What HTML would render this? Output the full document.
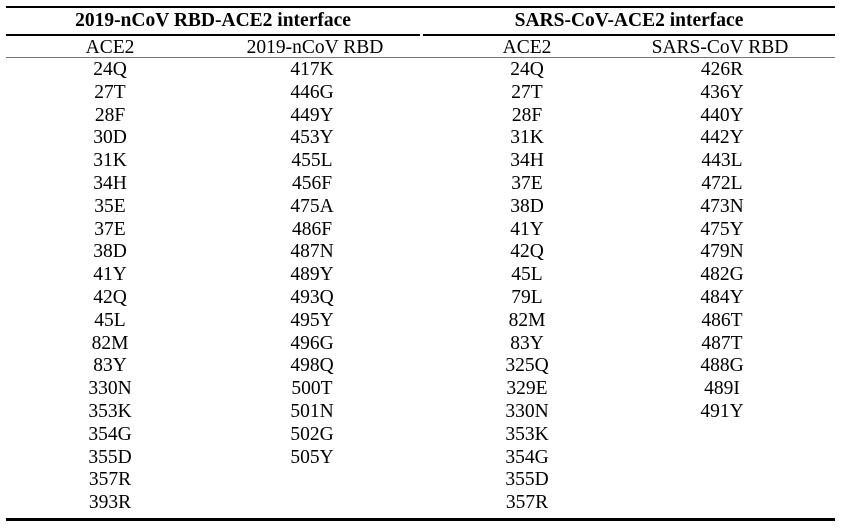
<!DOCTYPE html>
<html><head><meta charset="utf-8"><style>
body{margin:0;width:841px;height:530px;background:#fff;position:relative;font-family:"Liberation Serif",serif;color:#000;overflow:hidden}
.l{position:absolute;background:#000}
.t{position:absolute;font-weight:bold;font-size:19.5px;text-align:center;line-height:22px;top:10px}
.h{position:absolute;font-size:19.5px;text-align:center;line-height:22px;top:37px}
.c{position:absolute;top:59px;font-size:19.5px;text-align:center;line-height:22.8px;width:200px;font-weight:500}
</style></head><body>
<div class="l" style="left:6px;top:6px;width:829px;height:2px"></div>
<div class="l" style="left:6px;top:34px;width:414px;height:2px"></div>
<div class="l" style="left:423px;top:34px;width:412px;height:2px"></div>
<div class="l" style="left:6px;top:57px;width:829px;height:1px;background:#777"></div>
<div class="l" style="left:6px;top:518px;width:829px;height:3px"></div>
<div class="t" style="left:6px;width:414px">2019-nCoV RBD-ACE2 interface</div>
<div class="t" style="left:423px;width:412px">SARS-CoV-ACE2 interface</div>
<div class="h" style="left:10px;width:200px">ACE2</div>
<div class="h" style="left:215px;width:200px">2019-nCoV RBD</div>
<div class="h" style="left:427px;width:200px">ACE2</div>
<div class="h" style="left:620px;width:200px">SARS-CoV RBD</div>
<div class="c" style="left:10px">24Q<br>27T<br>28F<br>30D<br>31K<br>34H<br>35E<br>37E<br>38D<br>41Y<br>42Q<br>45L<br>82M<br>83Y<br>330N<br>353K<br>354G<br>355D<br>357R<br>393R</div>
<div class="c" style="left:212px">417K<br>446G<br>449Y<br>453Y<br>455L<br>456F<br>475A<br>486F<br>487N<br>489Y<br>493Q<br>495Y<br>496G<br>498Q<br>500T<br>501N<br>502G<br>505Y</div>
<div class="c" style="left:427px">24Q<br>27T<br>28F<br>31K<br>34H<br>37E<br>38D<br>41Y<br>42Q<br>45L<br>79L<br>82M<br>83Y<br>325Q<br>329E<br>330N<br>353K<br>354G<br>355D<br>357R</div>
<div class="c" style="left:622px">426R<br>436Y<br>440Y<br>442Y<br>443L<br>472L<br>473N<br>475Y<br>479N<br>482G<br>484Y<br>486T<br>487T<br>488G<br>489I<br>491Y</div>
</body></html>
